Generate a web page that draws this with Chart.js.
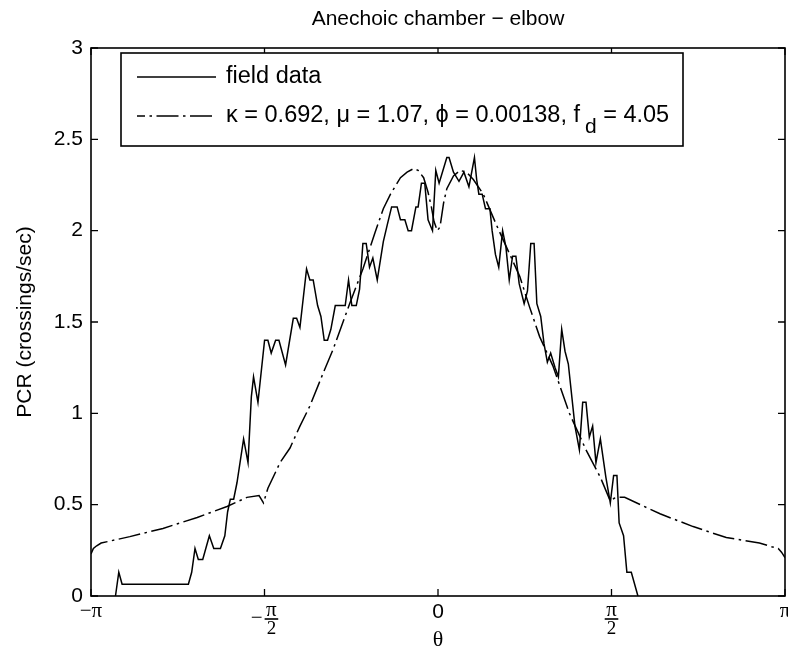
<!DOCTYPE html>
<html><head><meta charset="utf-8">
<script src="https://cdn.jsdelivr.net/npm/chart.js@4/dist/chart.umd.min.js"></script>
<style>html,body{margin:0;padding:0;background:#fff}#wrap{width:788px;height:654px}</style>
</head><body><div id="wrap"><canvas id="c" width="788" height="654"></canvas></div>
<script>
const chartTitle = 'Anechoic chamber − elbow';
const xAxisTitle = 'θ';
const yAxisTitle = 'PCR (crossings/sec)';
const seriesNames = ['field data', 'κ = 0.692, μ = 1.07, ϕ = 0.00138, f_d = 4.05'];
const xTickValues = [-Math.PI, -Math.PI / 2, 0, Math.PI / 2, Math.PI];
const xTickLabels = ['−π', '−π/2', '0', 'π/2', 'π'];
const yTickValues = [0, 0.5, 1, 1.5, 2, 2.5, 3];

const fieldTheta = [-2.92,-2.89,-2.86,-2.26,-2.23,-2.20,-2.17,-2.13,-2.07,-2.03,-1.97,-1.93,-1.905,-1.88,-1.85,-1.82,-1.76,-1.72,-1.69,-1.67,-1.63,-1.57,-1.54,-1.51,-1.47,-1.44,-1.38,-1.31,-1.28,-1.25,-1.19,-1.16,-1.13,-1.09,-1.06,-1.03,-1.00,-0.97,-0.93,-0.84,-0.81,-0.78,-0.74,-0.71,-0.68,-0.65,-0.62,-0.59,-0.55,-0.495,-0.46,-0.42,-0.37,-0.34,-0.30,-0.27,-0.24,-0.20,-0.18,-0.15,-0.12,-0.09,-0.05,-0.02,0.01,0.08,0.10,0.14,0.19,0.235,0.28,0.33,0.35,0.37,0.40,0.43,0.47,0.49,0.52,0.55,0.585,0.615,0.645,0.675,0.705,0.735,0.78,0.81,0.84,0.87,0.895,0.93,0.96,0.99,1.02,1.06,1.09,1.12,1.15,1.18,1.24,1.28,1.31,1.34,1.37,1.40,1.43,1.47,1.52,1.56,1.59,1.62,1.64,1.68,1.71,1.75,1.81];
const fieldPCR = [0,0.13,0.065,0.065,0.13,0.26,0.20,0.20,0.33,0.26,0.26,0.33,0.46,0.53,0.53,0.62,0.86,0.73,1.09,1.20,1.06,1.40,1.40,1.33,1.40,1.40,1.265,1.52,1.52,1.47,1.79,1.73,1.73,1.59,1.53,1.40,1.40,1.46,1.59,1.59,1.73,1.59,1.59,1.68,1.93,1.93,1.80,1.85,1.73,1.94,2.03,2.13,2.13,2.06,2.06,2.00,2.00,2.13,2.13,2.26,2.26,2.06,2.00,2.33,2.26,2.40,2.40,2.32,2.27,2.32,2.24,2.40,2.28,2.20,2.20,2.12,2.12,2.00,1.87,1.80,2.00,1.91,1.73,1.86,1.86,1.71,1.60,1.67,1.93,1.93,1.60,1.53,1.38,1.28,1.33,1.25,1.20,1.46,1.34,1.27,0.93,0.80,1.06,1.06,0.87,0.93,0.73,0.86,0.65,0.51,0.66,0.66,0.40,0.33,0.13,0.13,0.0];

const fitTheta = [-3.1416,-3.12,-3.09,-3.05,-2.79,-2.49,-2.18,-1.91,-1.73,-1.62,-1.58,-1.54,-1.43,-1.34,-1.25,-1.16,-1.04,-0.95,-0.80,-0.68,-0.57,-0.495,-0.43,-0.34,-0.28,-0.22,-0.18,-0.13,-0.09,-0.06,-0.036,-0.006,0.018,0.05,0.08,0.14,0.20,0.26,0.32,0.41,0.53,0.62,0.74,0.83,0.92,1.04,1.19,1.34,1.47,1.56,1.595,1.63,1.69,2.01,2.31,2.61,2.91,3.02,3.08,3.11,3.1416];
const fitPCR = [0.23,0.26,0.275,0.29,0.325,0.37,0.43,0.49,0.54,0.55,0.51,0.59,0.73,0.81,0.93,1.04,1.22,1.35,1.60,1.79,1.99,2.12,2.20,2.29,2.32,2.34,2.33,2.29,2.21,2.13,2.05,2.00,2.02,2.15,2.23,2.30,2.33,2.32,2.28,2.20,2.03,1.91,1.75,1.58,1.42,1.26,1.00,0.80,0.65,0.52,0.535,0.54,0.54,0.45,0.38,0.32,0.29,0.27,0.26,0.24,0.21];

const SANS = "'Liberation Sans', Arial, sans-serif";
const SERIF = "'Liberation Serif', 'DejaVu Serif', serif";
const TXT = 21;
const LEG = 23.5;
const PIF = 21;
const DASHDOT = [22, 4.5, 2.5, 4.5];

const overlay = {
  id: 'overlay',
  afterDraw(chart) {
    const ctx = chart.ctx, a = chart.chartArea, xs = chart.scales.x, ys = chart.scales.y;
    ctx.save();
    ctx.strokeStyle = '#000'; ctx.fillStyle = '#000';
    ctx.lineWidth = 1.6;
    ctx.strokeRect(a.left, a.top, a.right - a.left, a.bottom - a.top);
    ctx.lineWidth = 1.3;
    ctx.beginPath();
    xTickValues.forEach(v => {
      const px = xs.getPixelForValue(v);
      ctx.moveTo(px, a.bottom); ctx.lineTo(px, a.bottom - 7);
      ctx.moveTo(px, a.top); ctx.lineTo(px, a.top + 7);
    });
    yTickValues.forEach(v => {
      const py = ys.getPixelForValue(v);
      ctx.moveTo(a.left, py); ctx.lineTo(a.left + 7, py);
      ctx.moveTo(a.right, py); ctx.lineTo(a.right - 7, py);
    });
    ctx.stroke();

    // x tick labels
    ctx.textBaseline = 'alphabetic';
    xTickLabels.forEach((lab, i) => {
      const px = xs.getPixelForValue(xTickValues[i]);
      if (lab.includes('/')) {
        let sign = '', s = lab;
        if (s[0] === '−') { sign = '−'; s = s.slice(1); }
        const parts = s.split('/');
        ctx.font = `${PIF}px ${SERIF}`;
        const w = Math.max(ctx.measureText(parts[0]).width, ctx.measureText(parts[1]).width) + 3;
        const sw = sign ? ctx.measureText(sign).width + 2 : 0;
        const left = px - (sw + w) / 2;
        const cx = left + sw + w / 2;
        const barY = a.bottom + 23;
        if (sign) { ctx.textAlign = 'left'; ctx.fillText(sign, left, barY + 5); }
        ctx.textAlign = 'center';
        ctx.fillText(parts[0], cx, barY - 3);
        ctx.font = `19px ${SERIF}`;
        ctx.fillText(parts[1], cx, barY + 15);
        ctx.fillRect(cx - w / 2, barY - 0.8, w, 1.6);
      } else if (lab === '0') {
        ctx.font = `${TXT}px ${SANS}`;
        ctx.textAlign = 'center';
        ctx.fillText(lab, px, a.bottom + 22);
      } else {
        ctx.font = `${PIF}px ${SERIF}`;
        ctx.textAlign = 'center';
        ctx.fillText(lab, px, a.bottom + 21);
      }
    });

    // title and axis titles
    ctx.textAlign = 'center'; ctx.textBaseline = 'middle';
    ctx.font = `${TXT}px ${SANS}`;
    ctx.fillText(chartTitle, (a.left + a.right) / 2, 19);
    ctx.font = `22px ${SERIF}`;
    ctx.fillText(xAxisTitle, (a.left + a.right) / 2, 640);
    ctx.save();
    ctx.translate(25, (a.top + a.bottom) / 2);
    ctx.rotate(-Math.PI / 2);
    ctx.font = `${TXT}px ${SANS}`;
    ctx.fillText(yAxisTitle, 0, 0);
    ctx.restore();

    // legend
    const L = 121, T = 53, R = 683, B = 146;
    ctx.fillStyle = '#fff';
    ctx.fillRect(L, T, R - L, B - T);
    ctx.fillStyle = '#000';
    ctx.lineWidth = 1.6;
    ctx.strokeRect(L, T, R - L, B - T);
    const rows = [77, 116];
    ctx.lineWidth = 1.5;
    ctx.beginPath(); ctx.moveTo(137, rows[0]); ctx.lineTo(216, rows[0]); ctx.stroke();
    ctx.setLineDash(DASHDOT); ctx.lineDashOffset = 14;
    ctx.beginPath(); ctx.moveTo(137, rows[1]); ctx.lineTo(216, rows[1]); ctx.stroke();
    ctx.setLineDash([]);
    ctx.textAlign = 'left'; ctx.textBaseline = 'middle';
    ctx.font = `${LEG}px ${SANS}`;
    ctx.fillText(seriesNames[0], 226, rows[0]);
    // second entry with subscript
    const name = seriesNames[1];
    const k = name.indexOf('_');
    const pre = name.slice(0, k), sub = name[k + 1], post = name.slice(k + 2);
    let xx = 226;
    ctx.fillText(pre, xx, rows[1]); xx += ctx.measureText(pre).width + 5;
    ctx.font = `${Math.round(LEG * 0.9)}px ${SANS}`;
    ctx.fillText(sub, xx, rows[1] + 11); xx += ctx.measureText(sub).width;
    ctx.font = `${LEG}px ${SANS}`;
    ctx.fillText(post, xx, rows[1]);
    ctx.restore();
  }
};

new Chart(document.getElementById('c'), {
  type: 'line',
  data: {
    datasets: [
      { label: seriesNames[0], data: fieldTheta.map((t, i) => ({ x: t, y: fieldPCR[i] })),
        borderColor: '#000', borderWidth: 1.5, pointRadius: 0, tension: 0, fill: false },
      { label: seriesNames[1], data: fitTheta.map((t, i) => ({ x: t, y: fitPCR[i] })),
        borderColor: '#000', borderWidth: 1.5, borderDash: DASHDOT, pointRadius: 0, tension: 0, fill: false }
    ]
  },
  options: {
    responsive: false, animation: false, devicePixelRatio: 1,
    layout: { padding: { left: 0, right: 3, top: 48, bottom: 58 } },
    plugins: { legend: { display: false }, title: { display: false }, tooltip: { enabled: false } },
    scales: {
      x: { type: 'linear', min: -Math.PI, max: Math.PI,
        grid: { display: false, drawTicks: false }, border: { display: false },
        ticks: { display: false },
        afterFit: s => { s.height = 0; } },
      y: { type: 'linear', min: 0, max: 3,
        grid: { display: false, drawTicks: false }, border: { display: false },
        afterBuildTicks: s => { s.ticks = yTickValues.map(v => ({ value: v })); },
        ticks: { color: '#000', padding: 8, font: { family: SANS, size: TXT }, callback: v => String(v) },
        afterFit: s => { s.width = 91; } }
    }
  },
  plugins: [overlay]
});
</script></body></html>
